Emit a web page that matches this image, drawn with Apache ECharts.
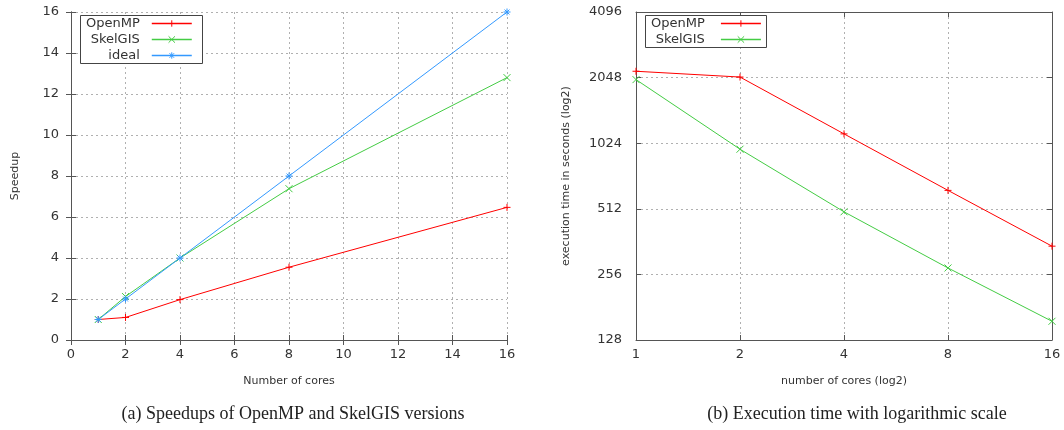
<!DOCTYPE html>
<html>
<head>
<meta charset="utf-8">
<script src="https://cdn.jsdelivr.net/npm/echarts@6/dist/echarts.min.js"></script>
<style>html,body{margin:0;padding:0;background:#fff;}#c{width:1064px;height:430px;}</style>
</head>
<body>
<div id="c"></div>
<script>
var cores = [1, 2, 4, 8, 16];
var speedupOpenMP = [1, 1.1, 1.97, 3.55, 6.47];
var speedupSkelGIS = [1, 2.12, 4.0, 7.38, 12.8];
var speedupIdeal = [1, 2, 4, 8, 16];
var timeOpenMP = [2190, 2060, 1130, 622, 345];
var timeSkelGIS = [2005, 961, 496, 274, 156];
var speedTicks = [0, 2, 4, 6, 8, 10, 12, 14, 16];
var timeTicks = [128, 256, 512, 1024, 2048, 4096];

var RED = '#ff0000', GREEN = '#44cc44', BLUE = '#3399ff';
var PLUS = 'path://M0,5L10,5M5,0L5,10';
var CROSS = 'path://M0,0L10,10M10,0L0,10';
var STAR = 'path://M0,5L10,5M5,0L5,10M1.5,1.5L8.5,8.5M8.5,1.5L1.5,8.5';
var FONT = 'DejaVu Sans';
var TXT = '#333';

function pairs(xs, ys) { return xs.map(function (x, i) { return [x, ys[i]]; }); }

function mkSeries(name, data, color, sym, xi, yi) {
  return {
    name: name, type: 'line', xAxisIndex: xi, yAxisIndex: yi,
    data: data, symbol: sym, symbolSize: 7, showSymbol: true,
    lineStyle: { color: color, width: 1 },
    itemStyle: { color: color, borderColor: color, borderWidth: 1 },
    emphasis: { disabled: true }, animation: false, z: 3
  };
}

function legItem(name, color) {
  return { name: name,
    lineStyle: { color: color, width: 1.4, opacity: 1 },
    itemStyle: { color: color, borderColor: color, borderWidth: 1, opacity: 1 } };
}

var splitStyle = { show: true, lineStyle: { color: '#b0b0b0', type: [2, 3], width: 1 } };
var axisLineStyle = { show: true, lineStyle: { color: '#555', width: 1 } };
var tickIn = { show: true, inside: true, length: 5, lineStyle: { color: '#555' } };
var labelStyle = { color: TXT, fontFamily: FONT, fontSize: 13 };
var nameStyle = { color: TXT, fontFamily: FONT, fontSize: 11 };

function mirror(base, pos) {
  var a = JSON.parse(JSON.stringify(base));
  a.position = pos; a.axisLabel = { show: false }; a.splitLine = { show: false };
  a.name = ''; a.axisLine = axisLineStyle; a.axisTick = tickIn;
  return a;
}

function plain(v) { return String(Math.round(v)); }

var xA0 = { type: 'value', gridIndex: 0, min: speedTicks[0], max: speedTicks[speedTicks.length - 1], interval: 2,
  axisLine: axisLineStyle, axisTick: tickIn, splitLine: splitStyle, axisLabel: Object.assign({ margin: 8 }, labelStyle),
  name: 'Number of cores', nameLocation: 'middle', nameGap: 36, nameTextStyle: nameStyle };
var yA0 = { type: 'value', gridIndex: 0, min: speedTicks[0], max: speedTicks[speedTicks.length - 1], interval: 2,
  axisLine: axisLineStyle, axisTick: tickIn, splitLine: splitStyle, axisLabel: Object.assign({ margin: 12 }, labelStyle),
  name: 'Speedup', nameLocation: 'middle', nameGap: 50, nameTextStyle: nameStyle };
var xA1 = { type: 'log', logBase: 2, gridIndex: 1, min: cores[0], max: cores[cores.length - 1],
  axisLine: axisLineStyle, axisTick: tickIn, splitLine: splitStyle,
  axisLabel: Object.assign({ margin: 8, formatter: plain }, labelStyle),
  name: 'number of cores (log2)', nameLocation: 'middle', nameGap: 36, nameTextStyle: nameStyle };
var yA1 = { type: 'log', logBase: 2, gridIndex: 1, min: timeTicks[0], max: timeTicks[timeTicks.length - 1],
  axisLine: axisLineStyle, axisTick: tickIn, splitLine: splitStyle,
  axisLabel: Object.assign({ margin: 14, formatter: plain }, labelStyle),
  name: 'execution time in seconds (log2)', nameLocation: 'middle', nameGap: 64, nameTextStyle: nameStyle };

var legendCommon = {
  orient: 'vertical', align: 'right', itemWidth: 40, itemHeight: 8, itemGap: 3,
  borderColor: RED, borderWidth: 0, padding: [3, 10, 3, 6], backgroundColor: 'transparent',
  textStyle: { color: TXT, fontFamily: FONT, fontSize: 13, padding: [0, 7, 0, 0] },
  selectedMode: false
};

var option = {
  animation: false,
  backgroundColor: '#fff',
  title: [
    { text: '(a) Speedups of OpenMP and SkelGIS versions', left: 288, top: 400, textAlign: 'center',
      textStyle: { fontFamily: 'Liberation Serif', fontWeight: 'normal', fontSize: 18, color: '#222' } },
    { text: '(b) Execution time with logarithmic scale', left: 852, top: 400, textAlign: 'center',
      textStyle: { fontFamily: 'Liberation Serif', fontWeight: 'normal', fontSize: 18, color: '#222' } }
  ],
  grid: [
    { left: 71, right: 557, top: 12, bottom: 90 },
    { left: 636, right: 12, top: 12, bottom: 90 }
  ],
  xAxis: [xA0, mirror(xA0, 'top'), xA1, mirror(xA1, 'top')],
  yAxis: [yA0, mirror(yA0, 'right'), yA1, mirror(yA1, 'right')],
  legend: [
    Object.assign({ left: 80, top: 14, data: [legItem('OpenMP', RED), legItem('SkelGIS', GREEN), legItem('ideal', BLUE)] }, legendCommon),
    Object.assign({ left: 645, top: 14, data: [legItem('OpenMP ', RED), legItem('SkelGIS ', GREEN)] }, legendCommon)
  ],
  graphic: [
    { type: 'rect', left: 80, top: 15, shape: { width: 122, height: 48 }, style: { fill: '#fff', stroke: '#444', lineWidth: 1 }, z: 4 },
    { type: 'rect', left: 645, top: 15, shape: { width: 121, height: 32 }, style: { fill: '#fff', stroke: '#444', lineWidth: 1 }, z: 4 }
  ],
  series: [
    mkSeries('OpenMP', pairs(cores, speedupOpenMP), RED, PLUS, 0, 0),
    mkSeries('SkelGIS', pairs(cores, speedupSkelGIS), GREEN, CROSS, 0, 0),
    mkSeries('ideal', pairs(cores, speedupIdeal), BLUE, STAR, 0, 0),
    mkSeries('OpenMP ', pairs(cores, timeOpenMP), RED, PLUS, 2, 2),
    mkSeries('SkelGIS ', pairs(cores, timeSkelGIS), GREEN, CROSS, 2, 2)
  ]
};

var chart = echarts.init(document.getElementById('c'), null, { renderer: 'canvas' });
chart.setOption(option);
</script>
</body>
</html>
